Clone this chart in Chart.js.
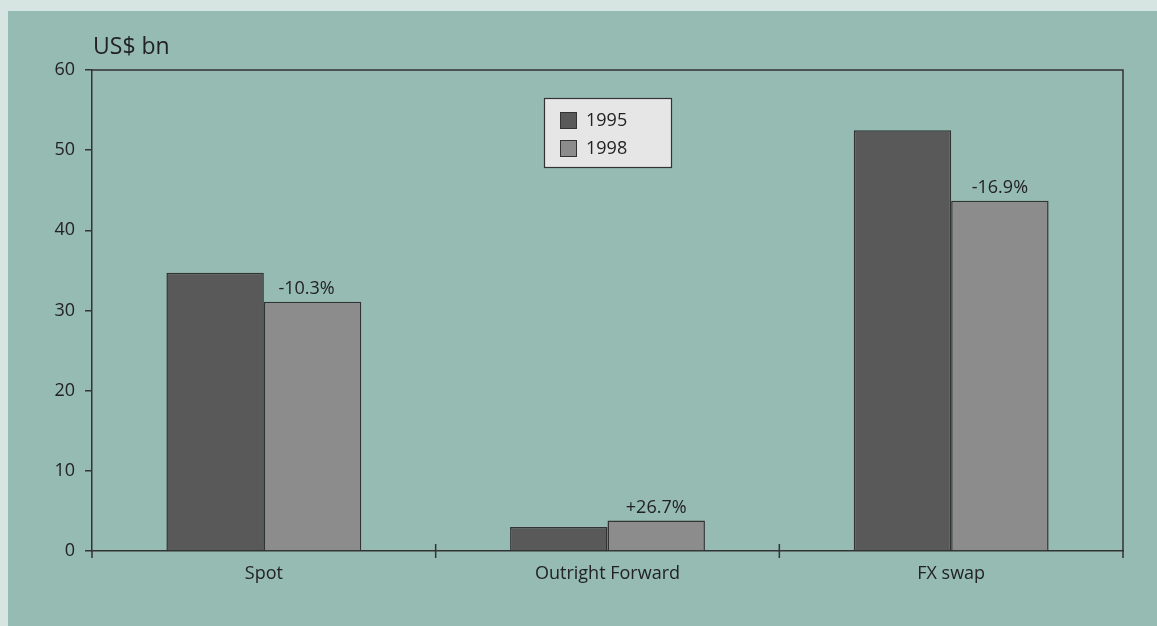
<!DOCTYPE html>
<html>
<head>
<meta charset="utf-8">
<script src="https://cdn.jsdelivr.net/npm/chart.js@4/dist/chart.umd.min.js"></script>
<style>
  html, body { margin: 0; padding: 0; background: #d6e5e2; }
  canvas { display: block; }
</style>
</head>
<body>
<canvas id="c" width="1157" height="626"></canvas>
<script>
const categories = ["Spot", "Outright Forward", "FX swap"];
const series1995 = [34.7, 3.0, 52.5];
const series1998 = [31.1, 3.8, 43.7];
const changeLabels = ["-10.3%", "+26.7%", "-16.9%"];
const seriesNames = ["1995", "1998"];
const yTicks = { min: 0, max: 60, step: 10 };
const yUnit = "US$ bn";

const FONT = "'Open Sans', 'Noto Sans', sans-serif";
const INK = "#222";
const LINE = "#333";
const C1995 = "#595959";
const C1998 = "#8c8c8c";

const decor = {
  id: "decor",
  beforeDraw(chart) {
    const ctx = chart.ctx;
    ctx.save();
    ctx.fillStyle = "#d6e5e2";
    ctx.fillRect(0, 0, chart.width, chart.height);
    ctx.fillStyle = "#95bbb2";
    ctx.fillRect(8, 11, chart.width - 8, chart.height - 11);
    ctx.restore();
  },
  afterDraw(chart) {
    const ctx = chart.ctx;
    const a = chart.chartArea;
    const x = chart.scales.x;
    ctx.save();
    // frame top & right
    ctx.strokeStyle = LINE;
    ctx.lineWidth = 1.5;
    ctx.beginPath();
    ctx.moveTo(a.left, a.top);
    ctx.lineTo(a.right, a.top);
    ctx.lineTo(a.right, a.bottom);
    ctx.stroke();
    // category boundary ticks (cross the axis)
    const n = categories.length;
    ctx.beginPath();
    for (let i = 0; i <= n; i++) {
      let px;
      if (i === 0) px = a.left;
      else if (i === n) px = a.right;
      else px = (x.getPixelForValue(i - 1) + x.getPixelForValue(i)) / 2;
      const up = (i === 0 || i === n) ? 0 : 7;
      ctx.moveTo(px, a.bottom - up);
      ctx.lineTo(px, a.bottom + 7);
    }
    ctx.stroke();
    // percentage labels above 1998 bars
    const meta = chart.getDatasetMeta(1);
    ctx.fillStyle = INK;
    ctx.font = "18px " + FONT;
    ctx.textAlign = "center";
    ctx.textBaseline = "middle";
    meta.data.forEach((bar, i) => {
      ctx.fillText(changeLabels[i], bar.x - (i === 0 ? 6 : 0), bar.y - 13);
    });
    // unit label
    ctx.font = "23px " + FONT;
    ctx.textAlign = "left";
    ctx.fillText(yUnit, 93, 47);
    // legend
    const lx = 544, ly = 98, lw = 127, lh = 69;
    ctx.fillStyle = "#e6e6e6";
    ctx.fillRect(lx, ly, lw, lh);
    ctx.strokeStyle = LINE;
    ctx.lineWidth = 1.2;
    ctx.strokeRect(lx + 0.5, ly + 0.5, lw, lh);
    const colors = [C1995, C1998];
    seriesNames.forEach((name, i) => {
      const sy = 112 + i * 28;
      ctx.fillStyle = colors[i];
      ctx.fillRect(560, sy, 16, 16);
      ctx.strokeStyle = LINE;
      ctx.lineWidth = 1;
      ctx.strokeRect(560.5, sy + 0.5, 16, 16);
      ctx.fillStyle = INK;
      ctx.font = "18px " + FONT;
      ctx.textAlign = "left";
      ctx.textBaseline = "middle";
      ctx.fillText(name, 586, sy + 9);
    });
    ctx.restore();
  }
};

new Chart(document.getElementById("c"), {
  type: "bar",
  data: {
    labels: categories,
    datasets: [
      { label: seriesNames[0], data: series1995, backgroundColor: C1995, borderColor: LINE, borderWidth: 1.5 },
      { label: seriesNames[1], data: series1998, backgroundColor: C1998, borderColor: LINE, borderWidth: 1.5 }
    ]
  },
  options: {
    responsive: false,
    animation: false,
    devicePixelRatio: 1,
    layout: { padding: { top: 70, right: 34, left: 0, bottom: 0 } },
    datasets: { bar: { categoryPercentage: 0.567, barPercentage: 1.0, borderSkipped: "start" } },
    plugins: { legend: { display: false }, tooltip: { enabled: false } },
    scales: {
      x: {
        type: "category",
        offset: true,
        afterFit(s) { s.height = 75; },
        grid: { display: false, offset: true, drawOnChartArea: false, tickLength: 7 },
        border: { display: true, color: LINE, width: 1.5 },
        ticks: { color: INK, font: { family: FONT, size: 18 }, padding: 5 }
      },
      y: {
        min: yTicks.min,
        max: yTicks.max,
        afterFit(s) { s.width = 92; },
        grid: { drawOnChartArea: false, tickLength: 7, color: LINE, lineWidth: 1.5 },
        border: { display: true, color: LINE, width: 1.5 },
        ticks: { stepSize: yTicks.step, color: INK, font: { family: FONT, size: 18 }, padding: 10 }
      }
    }
  },
  plugins: [decor]
});
</script>
</body>
</html>
